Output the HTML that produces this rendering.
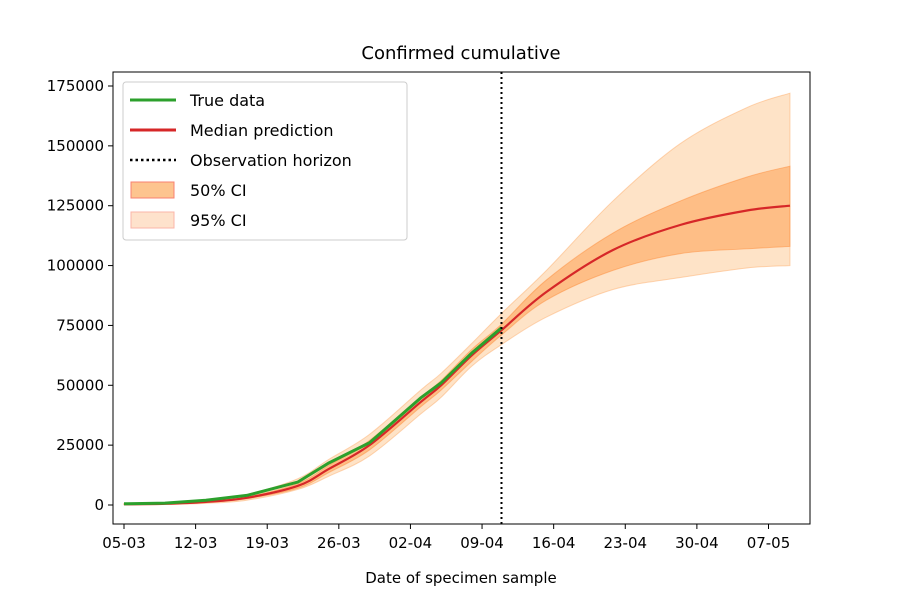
<!DOCTYPE html>
<html><head><meta charset="utf-8"><style>
body{margin:0;background:#fff}
svg text{font-family:"DejaVu Sans","Liberation Sans",sans-serif;fill:#000}
</style></head><body>
<svg id="c" width="900" height="600"></svg>
<script>
const tickDays=[0,7,14,21,28,35,42,49,56,63];
const tickLabels=["05-03","12-03","19-03","26-03","02-04","09-04","16-04","23-04","30-04","07-05"];
const yTicks=[0,25000,50000,75000,100000,125000,150000,175000];
const trueDays=[0,4,8,12,17,20,24,29,31,34,36.9];
const trueVals=[0.5,0.8,2,4,9.6,17.5,26,44.7,51,63.5,74];
const predDays=[0,4,8,12,17,20,24,29,31,34,36.9,41.3,47.8,54.4,60.9,65.1];
const median=[0.3,0.5,1.3,3,8,15,25,43,50,62.5,73,89,106.5,117,123,125];
const ci50Up=[0.4,0.7,1.6,3.4,9,16.5,27,45,52,65,75.5,94,113.6,127,137,141.5];
const ci50Lo=[0.2,0.4,1,2.6,7,13.5,23,41,48,60,71,85.6,98,105,107,108];
const ci95Up=[0.6,1,2.2,4.4,11,19,29.5,48,55,67.5,80,98,127,151,166,172];
const ci95Lo=[0.1,0.2,0.7,2,6.5,12,20.5,38,45,58,67,78.5,90,95,99,100];
const horizonDay=36.9;
const NS="http://www.w3.org/2000/svg";
const svg=document.getElementById('c');
const X=d=>124+d*10.23;
const Y=v=>505-v*419/175000;
const Yk=v=>Y(v*1000);
function mk(t,a,p){const e=document.createElementNS(NS,t);for(const k in a)e.setAttribute(k,a[k]);(p||svg).appendChild(e);return e;}
function smooth(pts,start){
  let s=start?('M'+pts[0][0]+','+pts[0][1]):('L'+pts[0][0]+','+pts[0][1]);
  for(let i=0;i<pts.length-1;i++){
    const p0=pts[Math.max(0,i-1)],p1=pts[i],p2=pts[i+1],p3=pts[Math.min(pts.length-1,i+2)];
    const c1=[p1[0]+(p2[0]-p0[0])/6,p1[1]+(p2[1]-p0[1])/6];
    const c2=[p2[0]-(p3[0]-p1[0])/6,p2[1]-(p3[1]-p1[1])/6];
    s+=' C'+c1+' '+c2+' '+p2;
  }
  return s;
}
function band(up,lo){
  const u=predDays.map((d,i)=>[X(d),Yk(up[i])]);
  const l=predDays.map((d,i)=>[X(d),Yk(lo[i])]).reverse();
  return smooth(u,true)+' '+smooth(l,false)+' Z';
}
const b95=mk('path',{d:band(ci95Up,ci95Lo),fill:'#fdd0a2',"fill-opacity":0.6,stroke:'#fdae6b',"stroke-opacity":0.5});


const b50=mk('path',{d:band(ci50Up,ci50Lo),fill:'#fdae6b',"fill-opacity":0.7,stroke:'#fd8d3c',"stroke-opacity":0.5});


const med=mk('path',{d:smooth(predDays.map((d,i)=>[X(d),Yk(median[i])]),true),fill:'none',stroke:'#d62728','stroke-width':2.2});


const tr=mk('polyline',{points:trueDays.map((d,i)=>X(d)+','+Yk(trueVals[i])).join(' '),fill:'none',stroke:'#2ca02c','stroke-width':3});


const hz=mk('line',{x1:X(horizonDay),x2:X(horizonDay),y1:72,y2:524,stroke:'#000','stroke-width':2,'stroke-dasharray':'2,3'});


const ax=mk('rect',{x:113,y:72,width:697,height:452,fill:'none',stroke:'#000','stroke-width':1});


tickDays.forEach((d,i)=>{
  mk('line',{x1:X(d),x2:X(d),y1:524,y2:529,stroke:'#000'});
  const t=mk('text',{x:X(d),y:548,'font-size':15,'text-anchor':'middle'});t.textContent=tickLabels[i];
  
  
});
yTicks.forEach(v=>{
  mk('line',{x1:108,x2:113,y1:Y(v),y2:Y(v),stroke:'#000'});
  const t=mk('text',{x:104,y:Y(v)+5,'font-size':15,'text-anchor':'end'});t.textContent=v;
  
  
});
</script>
<svg width="900" height="600" style="position:absolute;left:0;top:0">
<text x="461" y="59" font-size="18" text-anchor="middle">Confirmed cumulative</text>
<text x="461" y="583" font-size="15" text-anchor="middle">Date of specimen sample</text>
<g>
<rect x="123" y="82" width="284" height="158" rx="3" fill="#fff" fill-opacity="0.8" stroke="#ccc"/>
<line x1="130" y1="100" x2="176" y2="100" stroke="#2ca02c" stroke-width="3"/>
<text x="190" y="106" font-size="16">True data</text>
<line x1="130" y1="130" x2="176" y2="130" stroke="#d62728" stroke-width="3"/>
<text x="190" y="136" font-size="16">Median prediction</text>
<line x1="130" y1="160" x2="176" y2="160" stroke="#000" stroke-width="2.5" stroke-dasharray="2.5,3"/>
<text x="190" y="166" font-size="16">Observation horizon</text>
<rect x="131" y="182" width="43" height="16" fill="#fdc48f" stroke="#f88070"/>
<text x="190" y="196" font-size="16">50% CI</text>
<rect x="131" y="212" width="43" height="16" fill="#fee2cc" stroke="#fbb5a8"/>
<text x="190" y="226" font-size="16">95% CI</text>
</g>
</svg>
</body></html>
